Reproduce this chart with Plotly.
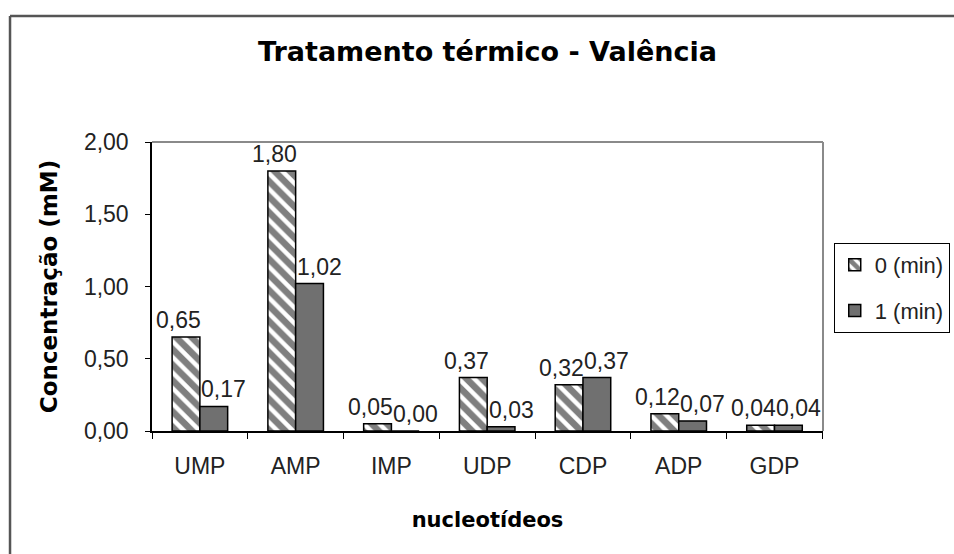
import plotly.graph_objects as go

categories = ["UMP", "AMP", "IMP", "UDP", "CDP", "ADP", "GDP"]
series_names = ["0 (min)", "1 (min)"]
values_0min = [0.65, 1.80, 0.05, 0.37, 0.32, 0.12, 0.04]
values_1min = [0.17, 1.02, 0.00, 0.03, 0.37, 0.07, 0.04]
y_ticks = [0, 0.5, 1.0, 1.5, 2.0]

REG = "Liberation Sans, Arial, sans-serif"
BOLD = "DejaVu Sans, Verdana, sans-serif"

fig = go.Figure()
fig.add_trace(go.Bar(
    x=categories, y=values_0min, name=series_names[0], legendgroup="a",
    marker=dict(color="white", line=dict(color="black", width=1.5),
                pattern=dict(shape="\\", fgcolor="black", bgcolor="white",
                             size=11, solidity=0.6)),
))
fig.add_trace(go.Bar(
    x=categories, y=values_1min, name=series_names[1], legendgroup="b",
    marker=dict(color="#707070", line=dict(color="black", width=1.5)),
))

def fmt(v):
    return f"{v:.2f}".replace(".", ",")

for cat, v in zip(categories, values_0min):
    fig.add_annotation(x=cat, y=v, xref="x", yref="y", text=fmt(v),
                       showarrow=False, yanchor="bottom", xshift=-21, yshift=2,
                       font=dict(family=REG, size=23, color="#222"))
for cat, v in zip(categories, values_1min):
    fig.add_annotation(x=cat, y=v, xref="x", yref="y", text=fmt(v),
                       showarrow=False, yanchor="bottom", xshift=24, yshift=2,
                       font=dict(family=REG, size=23, color="#222"))

# plot-area gray top/right border
fig.add_shape(type="line", xref="paper", yref="paper", x0=0, y0=1, x1=1, y1=1,
              line=dict(color="#8a8a8a", width=2))
fig.add_shape(type="line", xref="paper", yref="paper", x0=1, y0=0, x1=1, y1=1,
              line=dict(color="#8a8a8a", width=2))
# outer chart frame (left and top)
fig.add_shape(type="line", xref="paper", yref="paper", x0=-0.2116, y0=-0.6, x1=-0.2116, y1=1.436,
              line=dict(color="#555", width=2.5))
fig.add_shape(type="line", xref="paper", yref="paper", x0=-0.2116, y0=1.436, x1=1.3, y1=1.436,
              line=dict(color="#555", width=2.5))

fig.update_layout(
    width=954, height=554,
    margin=dict(l=152, r=131, t=142, b=123, autoexpand=False),
    paper_bgcolor="white", plot_bgcolor="white",
    separators=",.",
    barmode="group", bargap=0.42, bargroupgap=0,
    title=dict(text="<b>Tratamento térmico - Valência</b>", x=0.5, xref="paper",
               y=1 - 52 / 554, yref="container", yanchor="middle",
               font=dict(family=BOLD, size=27, color="black")),
    legend=dict(x=1.016, y=0.6505, xanchor="left", yanchor="top",
                bordercolor="black", borderwidth=1, bgcolor="white",
                font=dict(family=REG, size=22, color="#222"),
                tracegroupgap=14, itemwidth=30),
    xaxis=dict(
        type="category", tickson="boundaries", ticks="outside", ticklen=6,
        tickcolor="black", showline=True, linecolor="black", linewidth=1.5,
        showgrid=False, zeroline=False, ticklabelstandoff=14, automargin=False,
        tickfont=dict(family=REG, size=23, color="#222"),
        title=dict(text="<b>nucleotídeos</b>", standoff=34,
                   font=dict(family=BOLD, size=21, color="black")),
    ),
    yaxis=dict(
        range=[0, 2], tickvals=y_ticks, tickformat=".2f", ticks="outside",
        ticklen=5, tickcolor="black", showline=True, linecolor="black",
        linewidth=1.5, showgrid=False, zeroline=False, ticklabelstandoff=12,
        automargin=False,
        tickfont=dict(family=REG, size=23, color="#222"),
        title=dict(text="<b>Concentração (mM)</b>", standoff=20,
                   font=dict(family=BOLD, size=23, color="black")),
    ),
)

fig.write_html("out.html", config={"displayModeBar": False},
               post_script="document.body.style.margin='0';")
